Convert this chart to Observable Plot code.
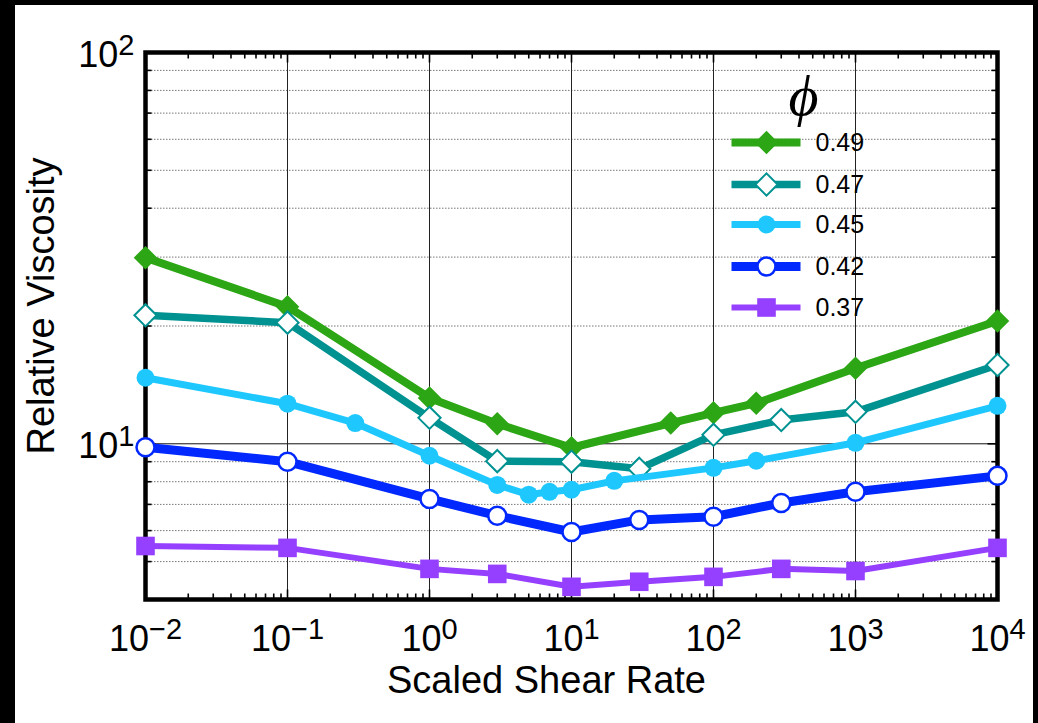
<!DOCTYPE html>
<html><head><meta charset="utf-8">
<script src="https://cdn.jsdelivr.net/npm/d3@7"></script>
<script src="https://cdn.jsdelivr.net/npm/@observablehq/plot@0.6"></script>
<style>
html,body{margin:0;padding:0;background:#000;}
#chart{position:absolute;left:15px;top:5px;width:1018px;height:718px;background:#fff;}
</style></head><body><div id="chart"></div>
<script>
// ---- data ----
const phiLabels = ["0.49","0.47","0.45","0.42","0.37"];
const seriesColors = ["#2ca614","#009191","#1ec8ff","#0028ff","#9640ff"];

const shear049 = [0.01, 0.1, 1, 3, 10, 50, 100, 200, 1000, 10000];
const visc049  = [29.9, 22.4, 13.1, 11.25, 9.77, 11.3, 12.0, 12.7, 15.6, 20.6];
const shear047 = [0.01, 0.1, 1, 3, 10, 30, 100, 300, 1000, 10000];
const visc047  = [21.3, 20.4, 11.65, 9.03, 9.0, 8.63, 10.54, 11.5, 12.07, 15.9];
const shear045 = [0.01, 0.1, 0.3, 1, 3, 5, 7, 10, 20, 100, 200, 1000, 10000];
const visc045  = [14.75, 12.66, 11.3, 9.32, 7.85, 7.41, 7.54, 7.63, 8.04, 8.68, 9.05, 10.06, 12.5];
const shear042 = [0.01, 0.1, 1, 3, 10, 30, 100, 300, 1000, 10000];
const visc042  = [9.8, 9.0, 7.23, 6.55, 5.95, 6.39, 6.51, 7.06, 7.54, 8.28];
const shear037 = [0.01, 0.1, 1, 3, 10, 30, 100, 300, 1000, 10000];
const visc037  = [5.48, 5.42, 4.79, 4.65, 4.31, 4.44, 4.57, 4.79, 4.73, 5.42];

const xTickValues = [0.01, 0.1, 1, 10, 100, 1000, 10000];
const yTickValues = [10, 100];
const xMajorGrid = [0.1, 1, 10, 100, 1000];
const yMajorGrid = [10];
const yMinorGrid = [5, 6, 7, 8, 9, 20, 30, 40, 50, 60, 70, 80, 90];
const xLabel = "Scaled Shear Rate";
const yLabel = "Relative Viscosity";
const legendTitle = "ϕ";

// ---- build ----
const shears = [shear049, shear047, shear045, shear042, shear037];
const viscs = [visc049, visc047, visc045, visc042, visc037];
const tables = shears.map((xs, i) => xs.map((x, j) => ({phi: phiLabels[i], x, y: viscs[i][j]})));

const styles = [
  {w: 8, symbol: "diamond2", r: 10.6, filled: true},
  {w: 7.5, symbol: "diamond2", r: 10, filled: false, sw: 2},
  {w: 7, symbol: "circle", r: 9, filled: true},
  {w: 9, symbol: "circle", r: 9, filled: false, sw: 2.5},
  {w: 6, symbol: "square", r: 10.5, filled: true}
];

const xDomain = [0.01, 10000];
const yDomain = [4, 100];

// x minor tick positions (log ticks)
const xMinor = [];
for (let d = -2; d <= 3; d++) for (let k = 2; k <= 9; k++) xMinor.push(k * Math.pow(10, d));
const yMinorTicks = yMinorGrid;

const sym = (f) => ({draw(c) { f(c); }});
const tickUp = (L) => sym(c => { c.moveTo(0, 0); c.lineTo(0, -L); });
const tickDown = (L) => sym(c => { c.moveTo(0, 0); c.lineTo(0, L); });
const tickRight = (L) => sym(c => { c.moveTo(0, 0); c.lineTo(L, 0); });
const tickLeft = (L) => sym(c => { c.moveTo(0, 0); c.lineTo(-L, 0); });
const hLine = sym(c => { c.moveTo(-35, 0); c.lineTo(34, 0); });

const marks = [];
// gridlines
marks.push(Plot.ruleY(yMinorGrid, {stroke: "#777", strokeWidth: 1, strokeDasharray: "1.5,1.5"}));
marks.push(Plot.ruleY(yMajorGrid, {stroke: "#111", strokeWidth: 1}));
marks.push(Plot.ruleX(xMajorGrid, {stroke: "#222", strokeWidth: 1}));
// inner ticks
const tk = {stroke: "black", strokeWidth: 1.6, fill: "none", r: 1};
marks.push(Plot.dot(xMinor, {...tk, x: d => d, y: () => yDomain[0], symbol: tickUp(6)}));
marks.push(Plot.dot(xMinor, {...tk, x: d => d, y: () => yDomain[1], symbol: tickDown(6)}));
marks.push(Plot.dot(xMajorGrid, {...tk, x: d => d, y: () => yDomain[0], symbol: tickUp(10)}));
marks.push(Plot.dot(xMajorGrid, {...tk, x: d => d, y: () => yDomain[1], symbol: tickDown(10)}));
marks.push(Plot.dot(yMinorTicks, {...tk, y: d => d, x: () => xDomain[0], symbol: tickRight(6)}));
marks.push(Plot.dot(yMinorTicks, {...tk, y: d => d, x: () => xDomain[1], symbol: tickLeft(6)}));
marks.push(Plot.dot(yMajorGrid, {...tk, y: d => d, x: () => xDomain[0], symbol: tickRight(10)}));
marks.push(Plot.dot(yMajorGrid, {...tk, y: d => d, x: () => xDomain[1], symbol: tickLeft(10)}));
// frame
marks.push(Plot.frame({stroke: "black", strokeWidth: 4.5}));
// axes labels
const fmt = d => "10^" + String(Math.round(Math.log10(d))).replace("-", "−");
marks.push(Plot.axisX({ticks: xTickValues, tickSize: 0, tickPadding: 26, tickFormat: fmt, fontSize: 36, label: null, fill: "black"}));
marks.push(Plot.axisY({ticks: yTickValues, tickSize: 0, tickPadding: 11, tickFormat: fmt, fontSize: 36, label: null, fill: "black", dy: 3}));
marks.push(Plot.text([xLabel], {frameAnchor: "bottom", text: d => d, dx: -25, dy: 93, textAnchor: "middle", lineAnchor: "bottom", fontSize: 38, fill: "black", ariaLabel: "x-label"}));
marks.push(Plot.text([yLabel], {frameAnchor: "left", text: d => d, dx: -92, dy: -20, rotate: -90, textAnchor: "middle", lineAnchor: "bottom", fontSize: 38, fill: "black", ariaLabel: "y-label"}));

// series
tables.forEach((rows, i) => {
  const s = styles[i], col = seriesColors[i];
  marks.push(Plot.line(rows, {x: "x", y: "y", stroke: col, strokeWidth: s.w, strokeLinejoin: "round"}));
  marks.push(Plot.dot(rows, {x: "x", y: "y", symbol: s.symbol, r: s.r,
    fill: s.filled ? col : "white", stroke: s.filled ? "none" : col, strokeWidth: s.sw || 0}));
});

// legend
const legendDy = [90, 132, 172, 214, 255];
marks.push(Plot.text([legendTitle], {frameAnchor: "top-left", text: d => d, dx: 658, dy: 44, fontSize: 58,
  fontFamily: "Liberation Serif, DejaVu Serif, serif", fontStyle: "italic", textAnchor: "middle", lineAnchor: "middle", fill: "black"}));
phiLabels.forEach((lab, i) => {
  const s = styles[i], col = seriesColors[i];
  marks.push(Plot.dot([lab], {frameAnchor: "top-left", dx: 621, dy: legendDy[i], symbol: hLine, r: 1, stroke: col, strokeWidth: s.w, fill: "none"}));
  marks.push(Plot.dot([lab], {frameAnchor: "top-left", dx: 621, dy: legendDy[i], symbol: s.symbol, r: s.r,
    fill: s.filled ? col : "white", stroke: s.filled ? "none" : col, strokeWidth: s.sw || 0}));
  marks.push(Plot.text([lab], {frameAnchor: "top-left", text: d => d, dx: 670, dy: legendDy[i], fontSize: 25,
    textAnchor: "start", lineAnchor: "middle", fill: "black"}));
});

const svg = Plot.plot({
  width: 1018, height: 718,
  marginLeft: 130, marginRight: 36, marginTop: 47, marginBottom: 124,
  x: {type: "log", domain: xDomain, axis: null},
  y: {type: "log", domain: yDomain, axis: null},
  style: {fontFamily: "'Liberation Sans', Arial, Helvetica, sans-serif", background: "white", color: "black", overflow: "visible"},
  marks
});

// superscripts on tick labels
d3.select(svg).selectAll('g[aria-label="x-axis tick label"] text, g[aria-label="y-axis tick label"] text').each(function() {
  const t = this.textContent;
  if (!t.includes("^")) return;
  const [b, e] = t.split("^");
  this.textContent = b;
  d3.select(this).append("tspan").attr("dy", "-12px").attr("font-size", "29px").text(e);
});
d3.select(svg).selectAll('g[aria-label="x-label"] text').style("letter-spacing", "2.5px");

document.getElementById("chart").appendChild(svg);
</script></body></html>
